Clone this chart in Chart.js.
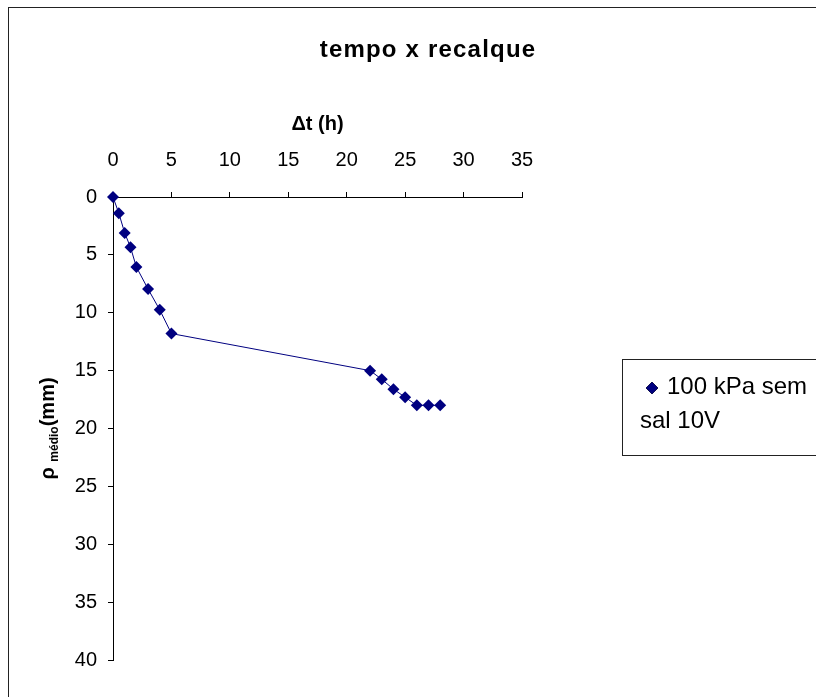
<!DOCTYPE html>
<html>
<head>
<meta charset="utf-8">
<script src="https://cdn.jsdelivr.net/npm/chart.js@4/dist/chart.umd.min.js"></script>
<style>
  body { margin: 0; background: #fff; }
  canvas { display: block; }
</style>
</head>
<body>
<canvas id="recalqueChart" width="816" height="697"></canvas>
<script>
"use strict";

// tempo (h) x recalque medio (mm)
var tempoH = [0, 0.5, 1, 1.5, 2, 3, 4, 5, 22, 23, 24, 25, 26, 27, 28];
var recalqueMm = [0, 1.4, 3.1, 4.35, 6.05, 7.95, 9.75, 11.8, 15, 15.75, 16.6, 17.3, 18, 18, 18];
var serieLabel = '100 kPa sem sal 10V';
var chartTitle = 'tempo x recalque';
var xTitle = '\u0394t (h)';
var yTitle = ['\u03c1', 'médio', '(mm)'];

var navy = '#000080';
var fontFamily = '"Liberation Sans", Arial, sans-serif';

function getPoints() {
    return tempoH.map(function (t, i) {
        return { x: t, y: recalqueMm[i] };
    });
}

// outer frame + main title
var framePlugin = {
    id: 'frame',
    beforeDraw: function (chart) {
        var ctx = chart.ctx;
        ctx.save();
        ctx.strokeStyle = '#222';
        ctx.lineWidth = 1;
        ctx.strokeRect(8.5, 7.5, 900, 800);
        ctx.restore();
    },
    afterDraw: function (chart) {
        var ctx = chart.ctx;
        ctx.save();
        ctx.fillStyle = '#000';
        ctx.font = 'bold 24px ' + fontFamily;
        ctx.letterSpacing = '1.2px';
        ctx.textAlign = 'center';
        ctx.textBaseline = 'alphabetic';
        ctx.fillText(chartTitle, 428, 57);
        ctx.restore();
    }
};

// y title with subscript
var yTitlePlugin = {
    id: 'yTitle',
    afterDraw: function (chart) {
        var ctx = chart.ctx;
        var area = chart.chartArea;
        var big = 'bold 20px ' + fontFamily;
        var small = 'bold 12px ' + fontFamily;
        ctx.save();
        ctx.fillStyle = '#000';
        ctx.textBaseline = 'alphabetic';
        ctx.textAlign = 'left';
        ctx.font = big;
        var w0 = ctx.measureText(yTitle[0] + ' ').width;
        var w2 = ctx.measureText(yTitle[2]).width;
        ctx.font = small;
        var w1 = ctx.measureText(yTitle[1]).width;
        var total = w0 + w1 + w2;
        ctx.translate(54, (area.top + area.bottom) / 2);
        ctx.rotate(-Math.PI / 2);
        var x = -total / 2;
        ctx.font = big;
        ctx.fillText(yTitle[0], x, 0);
        x += w0;
        ctx.font = small;
        ctx.fillText(yTitle[1], x, 4);
        x += w1;
        ctx.font = big;
        ctx.fillText(yTitle[2], x, 0);
        ctx.restore();
    }
};

// boxed legend at the right
var legendPlugin = {
    id: 'boxLegend',
    afterDraw: function (chart) {
        var ctx = chart.ctx;
        var ds = chart.data.datasets[0];
        ctx.save();
        ctx.strokeStyle = '#222';
        ctx.lineWidth = 1;
        ctx.strokeRect(622.5, 359.5, 300, 96);

        Chart.helpers.drawPoint(ctx, {
            pointStyle: 'rectRot', radius: 6, borderWidth: 1
        }, 652, 388);
        ctx.fillStyle = navy;
        ctx.fill();

        ctx.fillStyle = '#000';
        ctx.font = '24px ' + fontFamily;
        ctx.textBaseline = 'middle';
        var words = ds.label.split(' ');
        var lines = [];
        var cur = '';
        words.forEach(function (w) {
            var test = cur ? cur + ' ' + w : w;
            if (ctx.measureText(test).width > 160 && cur) {
                lines.push(cur);
                cur = w;
            } else {
                cur = test;
            }
        });
        lines.push(cur);
        lines.forEach(function (l, i) {
            ctx.fillText(l, i === 0 ? 667 : 640, 387 + i * 34);
        });
        ctx.restore();
    }
};

var chartElem = document.getElementById('recalqueChart');

var recalqueChart = new Chart(chartElem, {
    type: 'scatter',
    data: {
        datasets: [{
            label: serieLabel,
            data: getPoints(),
            showLine: true,
            borderColor: navy,
            borderWidth: 1,
            backgroundColor: navy,
            pointStyle: 'rectRot',
            pointRadius: 6,
            pointHoverRadius: 6,
            pointBorderWidth: 0,
            clip: false
        }]
    },
    options: {
        responsive: false,
        animation: false,
        layout: { padding: { left: 0, top: 0, right: 294, bottom: 37 } },
        plugins: {
            legend: { display: false },
            title: { display: false },
            tooltip: { enabled: false }
        },
        scales: {
            x: {
                type: 'linear',
                position: 'top',
                min: 0,
                max: 35,
                afterFit: function (scale) { scale.height = 197; },
                ticks: {
                    stepSize: 5,
                    padding: 20,
                    color: '#000',
                    font: { family: fontFamily, size: 20 }
                },
                grid: {
                    drawOnChartArea: false,
                    drawTicks: true,
                    tickLength: 5,
                    color: '#000'
                },
                border: { display: true, color: '#000', width: 1 },
                title: {
                    display: true,
                    text: xTitle,
                    color: '#000',
                    font: { family: fontFamily, size: 20, weight: 'bold' },
                    padding: { top: 112, bottom: 0 }
                }
            },
            y: {
                type: 'linear',
                position: 'left',
                reverse: true,
                min: 0,
                max: 40,
                afterFit: function (scale) { scale.width = 113; },
                ticks: {
                    stepSize: 5,
                    padding: 11,
                    color: '#000',
                    font: { family: fontFamily, size: 20 }
                },
                grid: {
                    drawOnChartArea: false,
                    drawTicks: true,
                    tickLength: 5,
                    color: '#000'
                },
                border: { display: true, color: '#000', width: 1 }
            }
        }
    },
    plugins: [framePlugin, yTitlePlugin, legendPlugin]
});
</script>
</body>
</html>
